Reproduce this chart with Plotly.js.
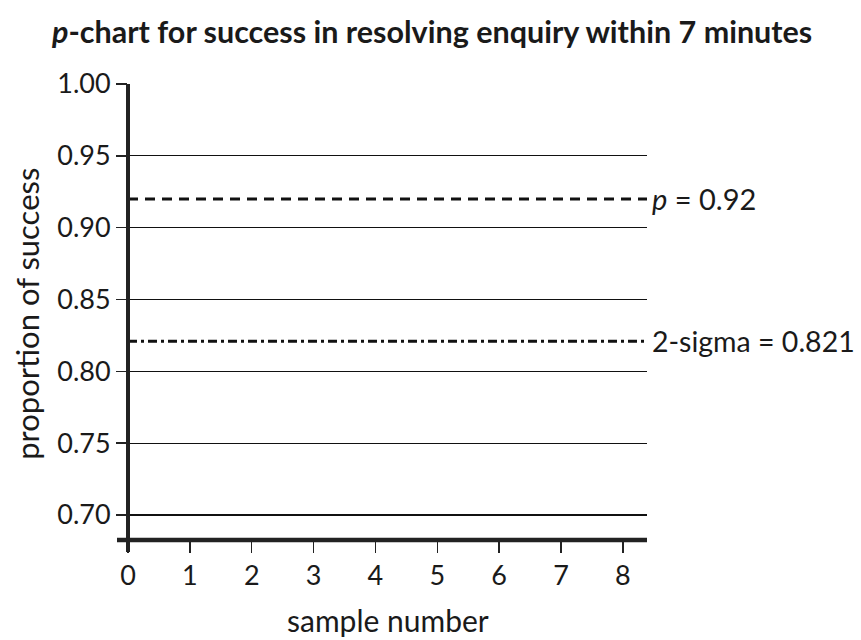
<!DOCTYPE html>
<html>
<head>
<meta charset="utf-8">
<script src="https://cdn.plot.ly/plotly-3.0.1.min.js"></script>
<style>html,body{margin:0;padding:0;background:#fff;}#chart{width:861px;height:640px;}</style>
</head>
<body>
<div id="chart"></div>
<script>
// Data
const sampleTicks = [0, 1, 2, 3, 4, 5, 6, 7, 8];
const proportionTicks = [0.70, 0.75, 0.80, 0.85, 0.90, 0.95, 1.00];
const proportionTickLabels = ["0.70", "0.75", "0.80", "0.85", "0.90", "0.95", "1.00"];
const centreLineP = 0.92;
const twoSigmaLimit = 0.821;
const xRange = [0, 8.39];
const yRange = [0.6826, 1.0];

const SANS = "Lato, 'Open Sans', sans-serif";
const SERIF = "'Liberation Serif', 'DejaVu Serif', serif";

const traces = [
  {
    x: xRange, y: [centreLineP, centreLineP],
    mode: "lines", hoverinfo: "skip", showlegend: false, cliponaxis: false,
    line: {color: "#111", width: 3, dash: "10px,7px"}
  },
  {
    x: xRange, y: [twoSigmaLimit, twoSigmaLimit],
    mode: "lines", hoverinfo: "skip", showlegend: false, cliponaxis: false,
    line: {color: "#111", width: 3, dash: "9px,4px,3px,4px"}
  }
];

const layout = {
  width: 861, height: 640,
  margin: {l: 128, r: 214, t: 84, b: 100},
  paper_bgcolor: "#fff", plot_bgcolor: "#fff",
  font: {family: SANS, color: "#1a1a1a", size: 27},
  title: {
    text: "<span style='font-family:" + SERIF + "'><b><i>p</i></b></span><b>-chart for success in resolving enquiry within 7 minutes</b>",
    font: {family: SANS, size: 30.5, color: "#1a1a1a"},
    xref: "container", x: 52/861, xanchor: "left",
    yref: "container", y: 1 - 32/640, yanchor: "middle"
  },
  xaxis: {
    range: xRange, tickvals: sampleTicks, ticktext: sampleTicks.map(String),
    showgrid: false, zeroline: false, showline: false,
    ticks: "outside", ticklen: 12, tickwidth: 1.5, tickcolor: "#222",
    tickfont: {size: 27, family: SANS},
    fixedrange: true
  },
  yaxis: {
    range: yRange, tickvals: proportionTicks, ticktext: proportionTickLabels,
    showgrid: true, gridcolor: "#111", gridwidth: 1.2,
    zeroline: false, showline: false,
    ticks: "outside", ticklen: 11, tickwidth: 1.5, tickcolor: "#222",
    tickfont: {size: 27, family: SANS},
    fixedrange: true
  },
  shapes: [
    {type: "line", xref: "paper", yref: "paper", x0: -11/519, x1: 1, y0: 0, y1: 0,
     line: {color: "#222", width: 4.5}},
    {type: "line", xref: "paper", yref: "paper", x0: 0, x1: 0, y0: -12/456, y1: 1,
     line: {color: "#222", width: 4}}
  ],
  annotations: [
    {xref: "paper", x: 1, xanchor: "left", xshift: 3, yref: "y", y: centreLineP, yanchor: "middle",
     showarrow: false, font: {size: 29, family: SANS, color: "#1a1a1a"},
     text: "<span style='font-family:" + SERIF + "'><i>p</i> = </span>" + centreLineP.toFixed(2)},
    {xref: "paper", x: 1, xanchor: "left", xshift: 3, yref: "y", y: twoSigmaLimit, yanchor: "middle",
     showarrow: false, font: {size: 28.5, family: SANS, color: "#1a1a1a"},
     text: "2-sigma <span style='font-family:" + SERIF + "'>=</span> " + twoSigmaLimit.toFixed(3)},
    {xref: "paper", x: 0.5, xanchor: "center", yref: "paper", y: 0, yanchor: "middle", yshift: -80,
     showarrow: false, font: {size: 30, family: SANS, color: "#1a1a1a"},
     text: "sample number"},
    {xref: "paper", x: 0, xanchor: "center", xshift: -101, yref: "paper", y: 0.496, yanchor: "middle",
     textangle: -90, showarrow: false, font: {size: 31, family: SANS, color: "#1a1a1a"},
     text: "proportion of success"}
  ]
};

Plotly.newPlot("chart", traces, layout, {displayModeBar: false, staticPlot: true});
</script>
</body>
</html>
